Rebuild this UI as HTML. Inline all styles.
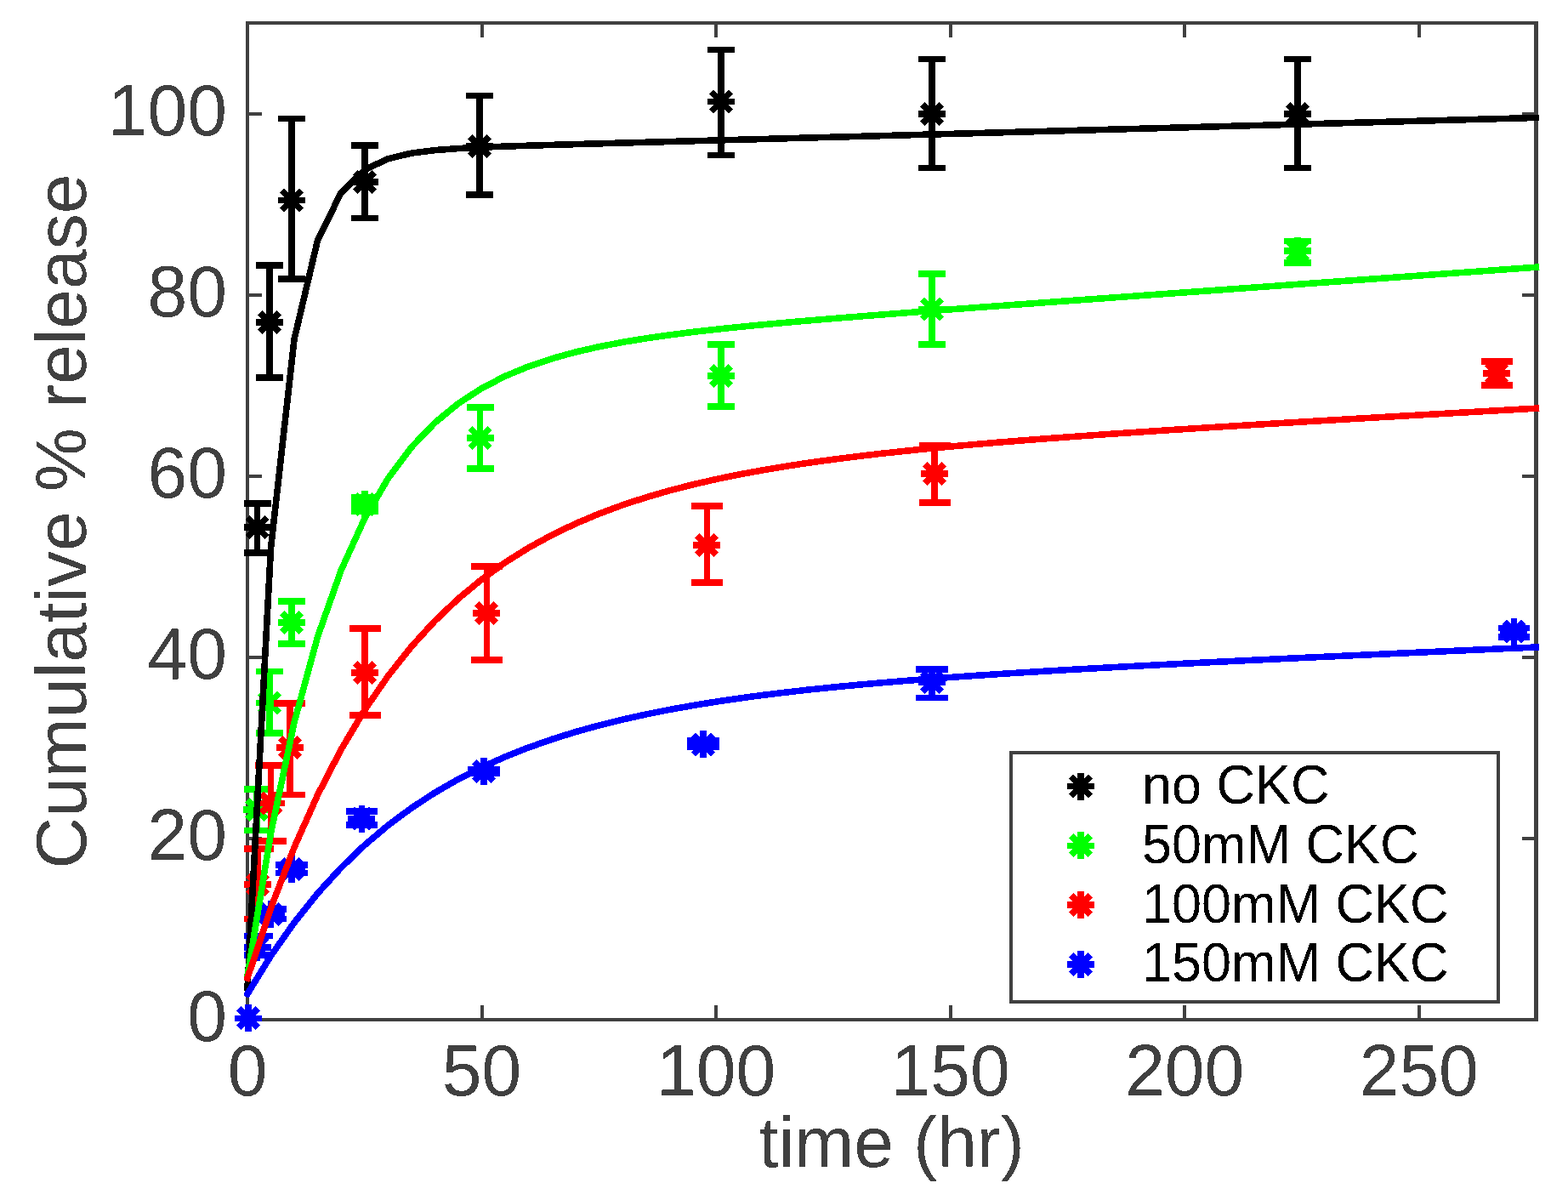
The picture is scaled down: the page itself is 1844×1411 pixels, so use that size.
<!DOCTYPE html><html><head><meta charset="utf-8"><title>Cumulative % release vs time</title><style>html,body{margin:0;padding:0;background:#fff;}svg{display:block;}text{font-family:"Liberation Sans",Arial,Helvetica,sans-serif;}</style></head><body>
<svg shape-rendering="crispEdges" width="1844" height="1411" viewBox="0 0 1844 1411">
<rect width="1844" height="1411" fill="#fff"/>
<defs><clipPath id="ax"><rect x="287" y="23" width="1523.5" height="1180"/></clipPath><filter id="na" x="-5%" y="-20%" width="110%" height="140%"><feComponentTransfer><feFuncA type="discrete" tableValues="0 1"/></feComponentTransfer></filter></defs>
<g stroke="#404040" stroke-width="4" fill="none">
<path stroke-width="3.9" d="M291 25.2V1200.9"/>
<path stroke-width="4.7" d="M1806.6 25.2V1200.9"/>
<path stroke-width="3.6" d="M289 27H1809"/>
<path stroke-width="3.9" d="M289 1199H1809"/>
<path d="M291 1199V1182M291 27V44M566.55 1199V1182M566.55 27V44M842.1 1199V1182M842.1 27V44M1117.65 1199V1182M1117.65 27V44M1393.2 1199V1182M1393.2 27V44M1668.75 1199V1182M1668.75 27V44M291 1199H308M1806.5 1199H1789.5M291 985.9H308M1806.5 985.9H1789.5M291 772.8H308M1806.5 772.8H1789.5M291 559.7H308M1806.5 559.7H1789.5M291 346.6H308M1806.5 346.6H1789.5M291 133.5H308M1806.5 133.5H1789.5"/>
</g>
<g fill="#404040" font-size="84" filter="url(#na)">
<text transform="translate(291 1287.7) scale(1 1.02)" text-anchor="middle">0</text>
<text transform="translate(566.55 1287.7) scale(1 1.02)" text-anchor="middle">50</text>
<text transform="translate(842.1 1287.7) scale(1 1.02)" text-anchor="middle">100</text>
<text transform="translate(1117.65 1287.7) scale(1 1.02)" text-anchor="middle">150</text>
<text transform="translate(1393.2 1287.7) scale(1 1.02)" text-anchor="middle">200</text>
<text transform="translate(1668.75 1287.7) scale(1 1.02)" text-anchor="middle">250</text>
<text transform="translate(267 1224) scale(1 1.02)" text-anchor="end">0</text>
<text transform="translate(267 1010.9) scale(1 1.02)" text-anchor="end">20</text>
<text transform="translate(267 797.8) scale(1 1.02)" text-anchor="end">40</text>
<text transform="translate(267 584.7) scale(1 1.02)" text-anchor="end">60</text>
<text transform="translate(267 371.6) scale(1 1.02)" text-anchor="end">80</text>
<text transform="translate(267 158.5) scale(1 1.02)" text-anchor="end">100</text>
<text x="1048.5" y="1371.7" text-anchor="middle">time (hr)</text>
<text transform="translate(100.7 613) rotate(-90)" text-anchor="middle">Cumulative % release</text>
</g>
<g fill="none" stroke-width="7.6">
<path clip-path="url(#ax)" stroke="#000000" d="M302.5 592V650M286.5 592H318.5M286.5 650H318.5M317 312V443.9M301 312H333M301 443.9H333M343 139.5V327.9M327 139.5H359M327 327.9H359M429 171V256.4M413 171H445M413 256.4H445M564 112.4V229M548 112.4H580M548 229H580M848 58.4V182.4M832 58.4H864M832 182.4H864M1096 69.5V197.4M1080 69.5H1112M1080 197.4H1112M1526 69.5V197.4M1510 69.5H1542M1510 197.4H1542"/>
<path stroke="#000000" d="M286.5 620H318.5M302.5 604V636M291.19 608.69L313.81 631.31M291.19 631.31L313.81 608.69M301 378.8H333M317 362.8V394.8M305.69 367.49L328.31 390.11M305.69 390.11L328.31 367.49M327 235.4H359M343 219.4V251.4M331.69 224.09L354.31 246.71M331.69 246.71L354.31 224.09M413 214H445M429 198V230M417.69 202.69L440.31 225.31M417.69 225.31L440.31 202.69M548 172H580M564 156V188M552.69 160.69L575.31 183.31M552.69 183.31L575.31 160.69M832 119.4H864M848 103.4V135.4M836.69 108.09L859.31 130.71M836.69 130.71L859.31 108.09M1080 134H1112M1096 118V150M1084.69 122.69L1107.31 145.31M1084.69 145.31L1107.31 122.69M1510 134H1542M1526 118V150M1514.69 122.69L1537.31 145.31M1514.69 145.31L1537.31 122.69"/>
<path clip-path="url(#ax)" stroke="#00ff00" d="M302 927.8V976.6M286 927.8H318M286 976.6H318M317 789.4V862M301 789.4H333M301 862H333M343 707V757M327 707H359M327 757H359M429 585V601M413 585H445M413 601H445M564.5 479V551M548.5 479H580.5M548.5 551H580.5M848 405V478M832 405H864M832 478H864M1096 321.9V404.9M1080 321.9H1112M1080 404.9H1112M1526 283.5V308.9M1510 283.5H1542M1510 308.9H1542"/>
<path stroke="#00ff00" d="M286 952H318M302 936V968M290.69 940.69L313.31 963.31M290.69 963.31L313.31 940.69M301 826.5H333M317 810.5V842.5M305.69 815.19L328.31 837.81M305.69 837.81L328.31 815.19M327 732H359M343 716V748M331.69 720.69L354.31 743.31M331.69 743.31L354.31 720.69M413 593H445M429 577V609M417.69 581.69L440.31 604.31M417.69 604.31L440.31 581.69M548.5 515H580.5M564.5 499V531M553.19 503.69L575.81 526.31M553.19 526.31L575.81 503.69M832 442H864M848 426V458M836.69 430.69L859.31 453.31M836.69 453.31L859.31 430.69M1080 363.6H1112M1096 347.6V379.6M1084.69 352.29L1107.31 374.91M1084.69 374.91L1107.31 352.29M1510 295H1542M1526 279V311M1514.69 283.69L1537.31 306.31M1514.69 306.31L1537.31 283.69"/>
<path clip-path="url(#ax)" stroke="#ff0000" d="M303 998V1080.6M284.5 998H321.5M284.5 1080.6H321.5M318.5 900V989M300 900H337M300 989H337M340.8 827V934.5M322.3 827H359.3M322.3 934.5H359.3M429 739V841M410.5 739H447.5M410.5 841H447.5M572.3 666V776M553.8 666H590.8M553.8 776H590.8M831.3 595V684.9M812.8 595H849.8M812.8 684.9H849.8M1099 523.3V590.9M1080.5 523.3H1117.5M1080.5 590.9H1117.5M1760 425V452.9M1741.5 425H1778.5M1741.5 452.9H1778.5"/>
<path stroke="#ff0000" d="M287 1040H319M303 1024V1056M291.69 1028.69L314.31 1051.31M291.69 1051.31L314.31 1028.69M302.5 944.5H334.5M318.5 928.5V960.5M307.19 933.19L329.81 955.81M307.19 955.81L329.81 933.19M324.8 879H356.8M340.8 863V895M329.49 867.69L352.11 890.31M329.49 890.31L352.11 867.69M413 791H445M429 775V807M417.69 779.69L440.31 802.31M417.69 802.31L440.31 779.69M556.3 721H588.3M572.3 705V737M560.99 709.69L583.61 732.31M560.99 732.31L583.61 709.69M815.3 641H847.3M831.3 625V657M819.99 629.69L842.61 652.31M819.99 652.31L842.61 629.69M1083 557H1115M1099 541V573M1087.69 545.69L1110.31 568.31M1087.69 568.31L1110.31 545.69M1744 439H1776M1760 423V455M1748.69 427.69L1771.31 450.31M1748.69 450.31L1771.31 427.69"/>
<path clip-path="url(#ax)" stroke="#0000ff" d="M302.6 1100.4V1123M283.8 1100.4H321.4M283.8 1123H321.4M318.5 1069V1080.5M299.7 1069H337.3M299.7 1080.5H337.3M343 1017V1026.5M324.2 1017H361.8M324.2 1026.5H361.8M425.3 954V970M406.5 954H444.1M406.5 970H444.1M569 905V909M550.2 905H587.8M550.2 909H587.8M827 871V878M808.2 871H845.8M808.2 878H845.8M1096 787V820.4M1077.2 787H1114.8M1077.2 820.4H1114.8M1780.3 738.6V748.8M1761.5 738.6H1799.1M1761.5 748.8H1799.1"/>
<path stroke="#0000ff" d="M276 1197.3H308M292 1181.3V1213.3M280.69 1185.99L303.31 1208.61M280.69 1208.61L303.31 1185.99M286.6 1114H318.6M302.6 1098V1130M291.29 1102.69L313.91 1125.31M291.29 1125.31L313.91 1102.69M302.5 1075H334.5M318.5 1059V1091M307.19 1063.69L329.81 1086.31M307.19 1086.31L329.81 1063.69M327 1022H359M343 1006V1038M331.69 1010.69L354.31 1033.31M331.69 1033.31L354.31 1010.69M409.3 962.5H441.3M425.3 946.5V978.5M413.99 951.19L436.61 973.81M413.99 973.81L436.61 951.19M553 907H585M569 891V923M557.69 895.69L580.31 918.31M557.69 918.31L580.31 895.69M811 875.4H843M827 859.4V891.4M815.69 864.09L838.31 886.71M815.69 886.71L838.31 864.09M1080 801.7H1112M1096 785.7V817.7M1084.69 790.39L1107.31 813.01M1084.69 813.01L1107.31 790.39M1764.3 742.5H1796.3M1780.3 726.5V758.5M1768.99 731.19L1791.61 753.81M1768.99 753.81L1791.61 731.19"/>
</g>
<g clip-path="url(#ax)" fill="none" stroke-width="7.6" stroke-linejoin="round" stroke-linecap="square">
<path stroke="#000000" d="M291 1161.4 318.56 643.95 346.11 398.58 373.67 282.03 401.22 226.45 428.77 199.74 456.33 186.7 483.88 180.13 511.44 176.61 539 174.55 566.55 173.17 594.11 172.12 621.66 171.22 649.22 170.4 676.77 169.61 704.33 168.83 731.88 168.07 759.43 167.3 786.99 166.54 814.54 165.78 842.1 165.02 869.65 164.26 897.21 163.5 924.76 162.74 952.32 161.98 979.88 161.22 1007.43 160.46 1034.99 159.7 1062.54 158.94 1090.1 158.18 1117.65 157.42 1145.2 156.66 1172.76 155.9 1200.32 155.14 1227.87 154.38 1255.43 153.62 1282.98 152.87 1310.53 152.11 1338.09 151.35 1365.64 150.59 1393.2 149.83 1420.76 149.07 1448.31 148.31 1475.87 147.55 1503.42 146.79 1530.98 146.03 1558.53 145.27 1586.09 144.51 1613.64 143.75 1641.19 142.99 1668.75 142.23 1696.31 141.47 1723.86 140.71 1751.41 139.95 1778.97 139.19 1806.53 138.43"/>
<path stroke="#00ff00" d="M291 1147.6 318.56 979.28 346.11 849.14 373.67 748.41 401.22 670.35 428.77 609.76 456.33 562.61 483.88 525.84 511.44 497.05 539 474.42 566.55 456.53 594.11 442.29 621.66 430.86 649.22 421.61 676.77 414.02 704.33 407.73 731.88 402.42 759.43 397.88 786.99 393.93 814.54 390.43 842.1 387.29 869.65 384.41 897.21 381.74 924.76 379.22 952.32 376.84 979.88 374.54 1007.43 372.32 1034.99 370.16 1062.54 368.04 1090.1 365.95 1117.65 363.89 1145.2 361.85 1172.76 359.82 1200.32 357.81 1227.87 355.81 1255.43 353.81 1282.98 351.82 1310.53 349.83 1338.09 347.84 1365.64 345.86 1393.2 343.88 1420.76 341.9 1448.31 339.92 1475.87 337.94 1503.42 335.97 1530.98 333.99 1558.53 332.01 1586.09 330.04 1613.64 328.06 1641.19 326.09 1668.75 324.11 1696.31 322.14 1723.86 320.16 1751.41 318.19 1778.97 316.21 1806.53 314.24"/>
<path stroke="#ff0000" d="M291 1150.05 318.56 1067.51 346.11 996.17 373.67 934.48 401.22 881.12 428.77 834.93 456.33 794.91 483.88 760.22 511.44 730.11 539 703.96 566.55 681.21 594.11 661.39 621.66 644.11 649.22 629 676.77 615.77 704.33 604.16 731.88 593.94 759.43 584.92 786.99 576.94 814.54 569.85 842.1 563.53 869.65 557.87 897.21 552.78 924.76 548.19 952.32 544.01 979.88 540.21 1007.43 536.71 1034.99 533.49 1062.54 530.5 1090.1 527.71 1117.65 525.1 1145.2 522.63 1172.76 520.3 1200.32 518.07 1227.87 515.94 1255.43 513.9 1282.98 511.92 1310.53 510 1338.09 508.14 1365.64 506.33 1393.2 504.55 1420.76 502.8 1448.31 501.09 1475.87 499.4 1503.42 497.73 1530.98 496.08 1558.53 494.45 1586.09 492.83 1613.64 491.22 1641.19 489.62 1668.75 488.03 1696.31 486.45 1723.86 484.87 1751.41 483.31 1778.97 481.74 1806.53 480.18"/>
<path stroke="#0000ff" d="M291 1168.68 318.56 1123.92 346.11 1084.7 373.67 1050.33 401.22 1020.18 428.77 993.72 456.33 970.48 483.88 950.05 511.44 932.06 539 916.22 566.55 902.24 594.11 889.88 621.66 878.95 649.22 869.26 676.77 860.65 704.33 852.99 731.88 846.15 759.43 840.02 786.99 834.53 814.54 829.58 842.1 825.11 869.65 821.06 897.21 817.37 924.76 814 952.32 810.9 979.88 808.05 1007.43 805.41 1034.99 802.95 1062.54 800.65 1090.1 798.5 1117.65 796.46 1145.2 794.53 1172.76 792.7 1200.32 790.95 1227.87 789.26 1255.43 787.64 1282.98 786.08 1310.53 784.56 1338.09 783.08 1365.64 781.64 1393.2 780.23 1420.76 778.84 1448.31 777.48 1475.87 776.15 1503.42 774.82 1530.98 773.52 1558.53 772.23 1586.09 770.95 1613.64 769.68 1641.19 768.42 1668.75 767.17 1696.31 765.93 1723.86 764.69 1751.41 763.46 1778.97 762.23 1806.53 761"/>
</g>
<rect x="1188.5" y="884.5" width="573" height="293.5" fill="#fff" stroke="#404040" stroke-width="4"/>
<path fill="none" stroke="#000000" stroke-width="7.6" d="M1255 924.5H1287M1271 908.5V940.5M1259.69 913.19L1282.31 935.81M1259.69 935.81L1282.31 913.19"/>
<text filter="url(#na)" transform="translate(1343 944.9) scale(1 1.02)" font-size="63" fill="#000">no CKC</text>
<path fill="none" stroke="#00ff00" stroke-width="7.6" d="M1255 994.3H1287M1271 978.3V1010.3M1259.69 982.99L1282.31 1005.61M1259.69 1005.61L1282.31 982.99"/>
<text filter="url(#na)" transform="translate(1343 1014.7) scale(1 1.02)" font-size="63" fill="#000">50mM CKC</text>
<path fill="none" stroke="#ff0000" stroke-width="7.6" d="M1255 1064.1H1287M1271 1048.1V1080.1M1259.69 1052.79L1282.31 1075.41M1259.69 1075.41L1282.31 1052.79"/>
<text filter="url(#na)" transform="translate(1343 1084.5) scale(1 1.02)" font-size="63" fill="#000">100mM CKC</text>
<path fill="none" stroke="#0000ff" stroke-width="7.6" d="M1255 1133.9H1287M1271 1117.9V1149.9M1259.69 1122.59L1282.31 1145.21M1259.69 1145.21L1282.31 1122.59"/>
<text filter="url(#na)" transform="translate(1343 1154.3) scale(1 1.02)" font-size="63" fill="#000">150mM CKC</text>
</svg></body></html>
